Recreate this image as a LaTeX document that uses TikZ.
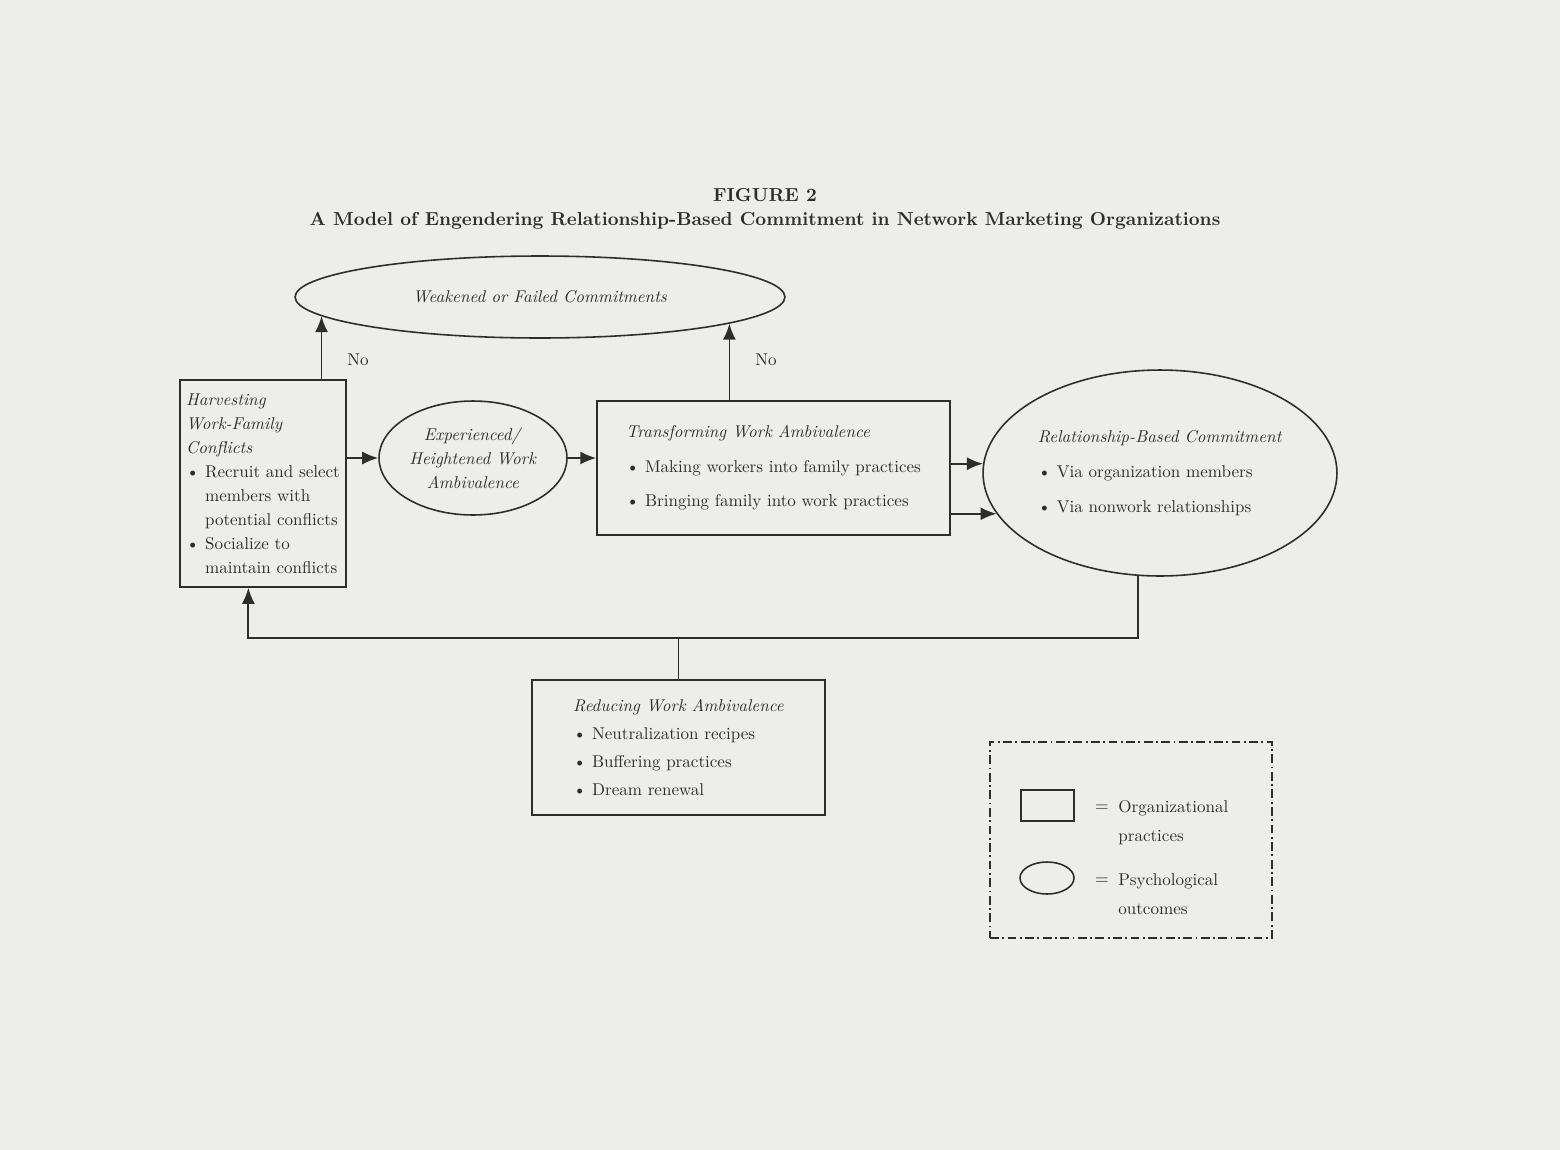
\documentclass[tikz,border=0pt]{standalone}
\usetikzlibrary{shapes.geometric,arrows.meta}
\definecolor{paper}{RGB}{237,237,235}
\definecolor{ink}{RGB}{45,45,45}
\newcommand{\bul}{\textbullet\ }
\newcommand{\hang}{\phantom{\textbullet\ }}

\begin{document}
\begin{tikzpicture}[x=0.02cm,y=-0.02cm,
  every node/.style={text=ink,font=\fontsize{9.7}{13.66}\selectfont},
  practice/.style={draw=ink,line width=0.9pt,rectangle,align=left,inner sep=0pt},
  outcome/.style={draw=ink,line width=0.9pt,ellipse,align=left,inner sep=0pt},
  arr/.style={draw=ink,line width=1pt,-{Latex[length=0.32cm,width=0.26cm]}},
  link/.style={draw=ink,line width=1pt},
  keyframe/.style={draw=ink,line width=0.7pt,dash pattern=on 5pt off 2pt on 1pt off 2pt}]
\fill[paper] (0,0) rectangle (1560,1150);

\node[anchor=base,font=\fontsize{10.7}{13}\selectfont\bfseries] (fig) at (765,201) {FIGURE 2};
\node[anchor=base,font=\fontsize{10.7}{13}\selectfont\bfseries] (title) at (765,225) {A Model of Engendering Relationship-Based Commitment in Network Marketing Organizations};

\node[outcome, align=center, minimum width=9.8cm, minimum height=1.64cm] (weak) at (540,297) {\textit{Weakened or Failed Commitments}};
\node[practice, minimum width=3.32cm, minimum height=4.14cm] (harv) at (263,483.5)
  {\textit{Harvesting}\\ \textit{Work-Family}\\ \textit{Conflicts}\\ \bul Recruit and select\\ \hang members with\\ \hang potential conflicts\\ \bul Socialize to\\ \hang maintain conflicts};
\node[outcome, align=center, minimum width=3.76cm, minimum height=2.28cm] (exp) at (473,458)
  {\textit{Experienced/}\\ \textit{Heightened Work}\\ \textit{Ambivalence}};
\node[practice, minimum width=7.06cm, minimum height=2.68cm] (trans) at (773.5,468)
  {\textit{Transforming Work Ambivalence}\\[0.22cm] \bul Making workers into family practices\\[0.2cm] \bul Bringing family into work practices};
\node[outcome, minimum width=7.08cm, minimum height=4.12cm] (rel) at (1160,473)
  {\textit{Relationship-Based Commitment}\\[0.22cm] \bul Via organization members\\[0.22cm] \bul Via nonwork relationships};
\node[practice, minimum width=5.86cm, minimum height=2.7cm] (red) at (678.5,747.5)
  {\textit{Reducing Work Ambivalence}\\[0.08cm] \bul Neutralization recipes\\[0.08cm] \bul Buffering practices\\[0.08cm] \bul Dream renewal};

% No branches
\draw[arr] (harv.north -| weak.185) -- (weak.185);
\draw[arr] (trans.north -| weak.352.5) -- (weak.352.5);
\node (noharv) at (358,360) {No};
\node (notrans) at (766,360) {No};

\draw[arr] (harv.east |- exp.west) -- (exp.west);
\draw[arr] (exp.east) -- (exp.east -| trans.west);
\draw[arr] (trans.east |- rel.177) -- (rel.177);
\draw[arr] (trans.east |- rel.194) -- (rel.194);

% feedback
\coordinate (fb) at (679,638);
\draw[arr] (rel.258) |- (fb) -| (harv.262);
\draw[link] (red.north) -- (red.north |- fb);

% key
\node[keyframe, minimum width=5.64cm, minimum height=3.92cm] (key) at (1131,840) {};
\node[practice, minimum width=1.06cm, minimum height=0.62cm] (keybox) at (1047.5,805.5) {};
\node[outcome, minimum width=1.08cm, minimum height=0.64cm] (keyoval) at (1047,878) {};
\node (eqorg) at (1102,808) {$=$};
\node (eqpsy) at (1102,881) {$=$};
\node[anchor=north west, align=left, inner sep=0pt] (keyorg) at (1118,800) {Organizational\\[0.1cm] practices};
\node[anchor=north west, align=left, inner sep=0pt] (keypsy) at (1118,873) {Psychological\\[0.1cm] outcomes};
\end{tikzpicture}
\end{document}
